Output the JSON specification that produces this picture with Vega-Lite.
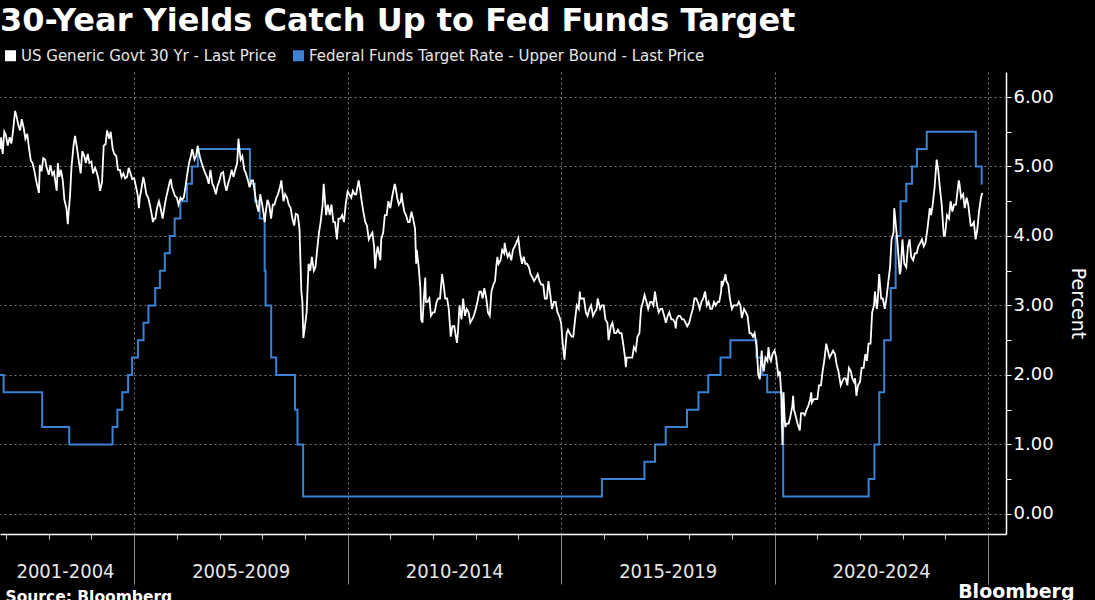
{
"$schema": "https://vega.github.io/schema/vega-lite/v6.json",
"background": "#000000",
"autosize": {"type": "none"},
"padding": {"left": 0, "top": 72, "right": 89, "bottom": 66},
"width": 1006,
"height": 462,
"title": {"text": "30-Year Yields Catch Up to Fed Funds Target", "anchor": "start", "frame": "group", "font": "DejaVu Sans", "fontSize": 32, "fontWeight": "bold", "color": "#ffffff", "offset": 10},
"config": {"view": {"stroke": null}},
"datasets": {
"ff": [
{"d":"2001-11-10","v":2.00},{"d":"2001-12-11","v":1.75},{"d":"2002-11-06","v":1.25},{"d":"2003-06-25","v":1.00},{"d":"2004-06-30","v":1.25},{"d":"2004-08-10","v":1.50},{"d":"2004-09-21","v":1.75},{"d":"2004-11-10","v":2.00},{"d":"2004-12-14","v":2.25},{"d":"2005-02-02","v":2.50},{"d":"2005-03-22","v":2.75},{"d":"2005-05-03","v":3.00},{"d":"2005-06-30","v":3.25},{"d":"2005-08-09","v":3.50},{"d":"2005-09-20","v":3.75},{"d":"2005-11-01","v":4.00},{"d":"2005-12-13","v":4.25},{"d":"2006-01-31","v":4.50},{"d":"2006-03-28","v":4.75},{"d":"2006-05-10","v":5.00},{"d":"2006-06-29","v":5.25},{"d":"2007-09-18","v":4.75},{"d":"2007-10-31","v":4.50},{"d":"2007-12-11","v":4.25},{"d":"2008-01-22","v":3.50},{"d":"2008-01-30","v":3.00},{"d":"2008-03-18","v":2.25},{"d":"2008-04-30","v":2.00},{"d":"2008-10-08","v":1.50},{"d":"2008-10-29","v":1.00},{"d":"2008-12-16","v":0.25},{"d":"2015-12-16","v":0.50},{"d":"2016-12-14","v":0.75},{"d":"2017-03-15","v":1.00},{"d":"2017-06-14","v":1.25},{"d":"2017-12-13","v":1.50},{"d":"2018-03-21","v":1.75},{"d":"2018-06-13","v":2.00},{"d":"2018-09-26","v":2.25},{"d":"2018-12-19","v":2.50},{"d":"2019-07-31","v":2.25},{"d":"2019-09-18","v":2.00},{"d":"2019-10-30","v":1.75},{"d":"2020-03-03","v":1.25},{"d":"2020-03-15","v":0.25},{"d":"2022-03-16","v":0.50},{"d":"2022-05-04","v":1.00},{"d":"2022-06-15","v":1.75},{"d":"2022-07-27","v":2.50},{"d":"2022-09-21","v":3.25},{"d":"2022-11-02","v":4.00},{"d":"2022-12-14","v":4.50},{"d":"2023-02-01","v":4.75},{"d":"2023-03-22","v":5.00},{"d":"2023-05-03","v":5.25},{"d":"2023-07-26","v":5.50},{"d":"2024-09-18","v":5.00},{"d":"2024-11-07","v":4.75},{"d":"2024-11-12","v":4.75}
],
"y30": [
{"d":"2001-11-12","v":5.25},{"d":"2001-11-20","v":5.42},{"d":"2001-12-03","v":5.18},{"d":"2001-12-17","v":5.50},{"d":"2001-12-31","v":5.45},
{"d":"2002-01-15","v":5.30},{"d":"2002-02-01","v":5.42},{"d":"2002-02-15","v":5.33},{"d":"2002-03-01","v":5.50},{"d":"2002-03-19","v":5.80},{"d":"2002-04-01","v":5.72},{"d":"2002-04-15","v":5.60},{"d":"2002-05-01","v":5.52},{"d":"2002-05-15","v":5.68},{"d":"2002-06-01","v":5.55},{"d":"2002-06-15","v":5.40},{"d":"2002-07-01","v":5.47},{"d":"2002-07-15","v":5.28},{"d":"2002-08-01","v":5.08},{"d":"2002-08-15","v":5.05},{"d":"2002-09-01","v":4.93},{"d":"2002-09-15","v":4.80},{"d":"2002-10-01","v":4.68},{"d":"2002-10-09","v":4.62},{"d":"2002-10-17","v":5.02},{"d":"2002-11-01","v":4.93},{"d":"2002-11-15","v":5.12},{"d":"2002-12-01","v":5.10},{"d":"2002-12-15","v":4.98},
{"d":"2003-01-01","v":4.88},{"d":"2003-01-15","v":5.02},{"d":"2003-02-01","v":4.88},{"d":"2003-02-15","v":4.92},{"d":"2003-03-01","v":4.75},{"d":"2003-03-10","v":4.65},{"d":"2003-03-20","v":5.05},{"d":"2003-04-01","v":4.85},{"d":"2003-04-15","v":4.95},{"d":"2003-05-01","v":4.80},{"d":"2003-05-15","v":4.52},{"d":"2003-06-01","v":4.40},{"d":"2003-06-13","v":4.17},{"d":"2003-06-20","v":4.35},{"d":"2003-07-01","v":4.55},{"d":"2003-07-15","v":5.00},{"d":"2003-08-01","v":5.30},{"d":"2003-08-14","v":5.44},{"d":"2003-09-01","v":5.25},{"d":"2003-09-15","v":5.08},{"d":"2003-10-01","v":4.90},{"d":"2003-10-15","v":5.22},{"d":"2003-11-01","v":5.15},{"d":"2003-11-15","v":5.05},{"d":"2003-12-01","v":5.18},{"d":"2003-12-15","v":5.05},
{"d":"2004-01-01","v":5.07},{"d":"2004-01-15","v":4.90},{"d":"2004-02-01","v":4.98},{"d":"2004-02-15","v":4.92},{"d":"2004-03-01","v":4.82},{"d":"2004-03-15","v":4.65},{"d":"2004-04-01","v":4.78},{"d":"2004-04-15","v":5.30},{"d":"2004-05-01","v":5.32},{"d":"2004-05-14","v":5.52},{"d":"2004-06-01","v":5.40},{"d":"2004-06-14","v":5.50},{"d":"2004-07-01","v":5.25},{"d":"2004-07-15","v":5.18},{"d":"2004-08-01","v":5.15},{"d":"2004-08-15","v":4.95},{"d":"2004-09-01","v":4.95},{"d":"2004-09-15","v":4.85},{"d":"2004-10-01","v":4.90},{"d":"2004-10-15","v":4.83},{"d":"2004-11-01","v":4.85},{"d":"2004-11-15","v":4.98},{"d":"2004-12-01","v":4.90},{"d":"2004-12-15","v":4.82},
{"d":"2005-01-01","v":4.83},{"d":"2005-01-15","v":4.72},{"d":"2005-02-01","v":4.58},{"d":"2005-02-10","v":4.40},{"d":"2005-02-18","v":4.55},{"d":"2005-03-01","v":4.65},{"d":"2005-03-20","v":4.85},{"d":"2005-04-01","v":4.75},{"d":"2005-04-15","v":4.60},{"d":"2005-05-01","v":4.55},{"d":"2005-05-15","v":4.45},{"d":"2005-06-01","v":4.30},{"d":"2005-06-10","v":4.20},{"d":"2005-06-20","v":4.25},{"d":"2005-07-01","v":4.25},{"d":"2005-07-15","v":4.40},{"d":"2005-08-01","v":4.50},{"d":"2005-08-15","v":4.40},{"d":"2005-09-01","v":4.25},{"d":"2005-09-15","v":4.40},{"d":"2005-10-01","v":4.55},{"d":"2005-10-15","v":4.65},{"d":"2005-11-01","v":4.78},{"d":"2005-11-10","v":4.82},{"d":"2005-11-20","v":4.70},{"d":"2005-12-01","v":4.65},{"d":"2005-12-15","v":4.58},
{"d":"2006-01-01","v":4.55},{"d":"2006-01-15","v":4.45},{"d":"2006-02-01","v":4.55},{"d":"2006-02-15","v":4.52},{"d":"2006-03-01","v":4.55},{"d":"2006-03-15","v":4.70},{"d":"2006-04-01","v":4.90},{"d":"2006-04-15","v":5.05},{"d":"2006-05-01","v":5.15},{"d":"2006-05-12","v":5.25},{"d":"2006-06-01","v":5.10},{"d":"2006-06-15","v":5.15},{"d":"2006-06-28","v":5.30},{"d":"2006-07-15","v":5.15},{"d":"2006-08-01","v":5.05},{"d":"2006-08-15","v":4.98},{"d":"2006-09-01","v":4.90},{"d":"2006-09-15","v":4.85},{"d":"2006-10-01","v":4.75},{"d":"2006-10-15","v":4.95},{"d":"2006-11-01","v":4.75},{"d":"2006-11-15","v":4.70},{"d":"2006-12-01","v":4.60},{"d":"2006-12-15","v":4.72},
{"d":"2007-01-01","v":4.80},{"d":"2007-01-15","v":4.90},{"d":"2007-02-01","v":4.92},{"d":"2007-02-15","v":4.75},{"d":"2007-03-01","v":4.65},{"d":"2007-03-15","v":4.75},{"d":"2007-04-01","v":4.85},{"d":"2007-04-15","v":4.95},{"d":"2007-05-01","v":4.85},{"d":"2007-05-15","v":4.95},{"d":"2007-06-01","v":5.05},{"d":"2007-06-12","v":5.40},{"d":"2007-06-20","v":5.25},{"d":"2007-07-01","v":5.10},{"d":"2007-07-15","v":5.15},{"d":"2007-08-01","v":4.95},{"d":"2007-08-15","v":4.90},{"d":"2007-09-01","v":4.80},{"d":"2007-09-15","v":4.70},{"d":"2007-10-01","v":4.80},{"d":"2007-10-15","v":4.80},{"d":"2007-11-01","v":4.60},{"d":"2007-11-15","v":4.45},{"d":"2007-12-01","v":4.35},{"d":"2007-12-15","v":4.60},
{"d":"2008-01-01","v":4.45},{"d":"2008-01-15","v":4.30},{"d":"2008-01-23","v":4.20},{"d":"2008-02-01","v":4.35},{"d":"2008-02-15","v":4.52},{"d":"2008-03-01","v":4.45},{"d":"2008-03-17","v":4.25},{"d":"2008-04-01","v":4.45},{"d":"2008-04-15","v":4.45},{"d":"2008-05-01","v":4.55},{"d":"2008-05-15","v":4.60},{"d":"2008-06-01","v":4.70},{"d":"2008-06-13","v":4.80},{"d":"2008-07-01","v":4.50},{"d":"2008-07-15","v":4.60},{"d":"2008-08-01","v":4.55},{"d":"2008-08-15","v":4.45},{"d":"2008-09-01","v":4.40},{"d":"2008-09-15","v":4.25},{"d":"2008-10-01","v":4.15},{"d":"2008-10-14","v":4.32},{"d":"2008-11-01","v":4.30},{"d":"2008-11-15","v":4.10},{"d":"2008-12-01","v":3.20},{"d":"2008-12-10","v":3.05},{"d":"2008-12-18","v":2.53},{"d":"2008-12-31","v":2.69},
{"d":"2009-01-15","v":2.90},{"d":"2009-02-01","v":3.60},{"d":"2009-02-15","v":3.50},{"d":"2009-03-01","v":3.70},{"d":"2009-03-18","v":3.50},{"d":"2009-04-01","v":3.55},{"d":"2009-04-15","v":3.80},{"d":"2009-05-01","v":4.05},{"d":"2009-05-15","v":4.20},{"d":"2009-06-01","v":4.45},{"d":"2009-06-10","v":4.75},{"d":"2009-07-01","v":4.30},{"d":"2009-07-15","v":4.45},{"d":"2009-08-01","v":4.30},{"d":"2009-08-15","v":4.45},{"d":"2009-09-01","v":4.20},{"d":"2009-09-15","v":4.20},{"d":"2009-10-01","v":3.95},{"d":"2009-10-15","v":4.25},{"d":"2009-11-01","v":4.25},{"d":"2009-11-15","v":4.30},{"d":"2009-12-01","v":4.20},{"d":"2009-12-15","v":4.45},
{"d":"2010-01-01","v":4.64},{"d":"2010-01-15","v":4.60},{"d":"2010-02-01","v":4.55},{"d":"2010-02-15","v":4.65},{"d":"2010-03-01","v":4.60},{"d":"2010-03-15","v":4.60},{"d":"2010-04-05","v":4.80},{"d":"2010-04-15","v":4.70},{"d":"2010-05-01","v":4.50},{"d":"2010-05-15","v":4.35},{"d":"2010-06-01","v":4.20},{"d":"2010-06-15","v":4.15},{"d":"2010-07-01","v":3.95},{"d":"2010-07-15","v":4.00},{"d":"2010-08-01","v":4.05},{"d":"2010-08-15","v":3.85},{"d":"2010-08-25","v":3.53},{"d":"2010-09-01","v":3.70},{"d":"2010-09-15","v":3.85},{"d":"2010-10-01","v":3.70},{"d":"2010-10-08","v":3.65},{"d":"2010-10-15","v":3.95},{"d":"2010-11-01","v":4.05},{"d":"2010-11-15","v":4.30},{"d":"2010-12-01","v":4.30},{"d":"2010-12-15","v":4.50},
{"d":"2011-01-01","v":4.40},{"d":"2011-01-15","v":4.55},{"d":"2011-02-08","v":4.75},{"d":"2011-02-15","v":4.70},{"d":"2011-03-01","v":4.55},{"d":"2011-03-15","v":4.45},{"d":"2011-04-01","v":4.50},{"d":"2011-04-08","v":4.62},{"d":"2011-04-15","v":4.50},{"d":"2011-05-01","v":4.35},{"d":"2011-05-15","v":4.30},{"d":"2011-06-01","v":4.20},{"d":"2011-06-15","v":4.20},{"d":"2011-07-01","v":4.35},{"d":"2011-07-15","v":4.25},{"d":"2011-08-01","v":4.10},{"d":"2011-08-10","v":3.60},{"d":"2011-08-15","v":3.80},{"d":"2011-09-01","v":3.55},{"d":"2011-09-15","v":3.25},{"d":"2011-09-22","v":2.80},{"d":"2011-10-03","v":2.75},{"d":"2011-10-15","v":3.10},{"d":"2011-10-27","v":3.40},{"d":"2011-11-01","v":3.05},{"d":"2011-11-15","v":3.05},{"d":"2011-12-01","v":3.10},{"d":"2011-12-15","v":2.85},
{"d":"2012-01-01","v":2.90},{"d":"2012-01-15","v":2.90},{"d":"2012-02-01","v":3.05},{"d":"2012-02-15","v":3.10},{"d":"2012-03-01","v":3.10},{"d":"2012-03-19","v":3.45},{"d":"2012-04-01","v":3.30},{"d":"2012-04-15","v":3.10},{"d":"2012-05-01","v":3.10},{"d":"2012-05-15","v":2.95},{"d":"2012-06-01","v":2.55},{"d":"2012-06-15","v":2.70},{"d":"2012-07-01","v":2.70},{"d":"2012-07-24","v":2.46},{"d":"2012-08-01","v":2.60},{"d":"2012-08-15","v":3.00},{"d":"2012-09-01","v":2.80},{"d":"2012-09-15","v":3.10},{"d":"2012-10-01","v":2.85},{"d":"2012-10-15","v":2.95},{"d":"2012-11-01","v":2.90},{"d":"2012-11-15","v":2.75},{"d":"2012-12-01","v":2.80},{"d":"2012-12-15","v":2.85},
{"d":"2013-01-01","v":2.95},{"d":"2013-01-15","v":3.05},{"d":"2013-02-01","v":3.20},{"d":"2013-02-15","v":3.20},{"d":"2013-03-01","v":3.10},{"d":"2013-03-15","v":3.25},{"d":"2013-04-01","v":3.10},{"d":"2013-04-15","v":2.90},{"d":"2013-05-01","v":2.85},{"d":"2013-05-15","v":3.20},{"d":"2013-06-01","v":3.30},{"d":"2013-06-15","v":3.35},{"d":"2013-06-25","v":3.55},{"d":"2013-07-05","v":3.70},{"d":"2013-07-15","v":3.60},{"d":"2013-08-01","v":3.65},{"d":"2013-08-15","v":3.80},{"d":"2013-09-01","v":3.75},{"d":"2013-09-05","v":3.90},{"d":"2013-09-15","v":3.80},{"d":"2013-10-01","v":3.70},{"d":"2013-10-15","v":3.75},{"d":"2013-11-01","v":3.65},{"d":"2013-11-15","v":3.80},{"d":"2013-12-01","v":3.85},{"d":"2013-12-31","v":3.97},
{"d":"2014-01-15","v":3.75},{"d":"2014-02-01","v":3.60},{"d":"2014-02-15","v":3.70},{"d":"2014-03-01","v":3.60},{"d":"2014-03-15","v":3.60},{"d":"2014-04-01","v":3.55},{"d":"2014-04-15","v":3.45},{"d":"2014-05-01","v":3.40},{"d":"2014-05-15","v":3.35},{"d":"2014-06-01","v":3.40},{"d":"2014-06-15","v":3.45},{"d":"2014-07-01","v":3.35},{"d":"2014-07-15","v":3.30},{"d":"2014-08-01","v":3.30},{"d":"2014-08-15","v":3.10},{"d":"2014-09-01","v":3.10},{"d":"2014-09-15","v":3.35},{"d":"2014-10-01","v":3.15},{"d":"2014-10-15","v":2.95},{"d":"2014-11-01","v":3.05},{"d":"2014-11-15","v":3.05},{"d":"2014-12-01","v":2.90},{"d":"2014-12-15","v":2.85},
{"d":"2015-01-01","v":2.75},{"d":"2015-01-15","v":2.45},{"d":"2015-01-30","v":2.22},{"d":"2015-02-10","v":2.45},{"d":"2015-02-18","v":2.60},{"d":"2015-03-01","v":2.65},{"d":"2015-03-15","v":2.60},{"d":"2015-04-01","v":2.55},{"d":"2015-04-15","v":2.55},{"d":"2015-05-01","v":2.80},{"d":"2015-05-15","v":3.00},{"d":"2015-06-01","v":2.95},{"d":"2015-06-10","v":3.20},{"d":"2015-06-15","v":3.10},{"d":"2015-07-01","v":3.10},{"d":"2015-07-15","v":3.10},{"d":"2015-08-01","v":2.90},{"d":"2015-08-15","v":2.85},{"d":"2015-09-01","v":2.95},{"d":"2015-09-15","v":3.00},{"d":"2015-10-01","v":2.85},{"d":"2015-10-15","v":2.90},{"d":"2015-11-01","v":2.95},{"d":"2015-11-10","v":3.10},{"d":"2015-12-01","v":2.95},{"d":"2015-12-15","v":3.00},
{"d":"2016-01-01","v":3.00},{"d":"2016-01-15","v":2.80},{"d":"2016-02-01","v":2.75},{"d":"2016-02-11","v":2.50},{"d":"2016-03-01","v":2.70},{"d":"2016-03-15","v":2.75},{"d":"2016-04-01","v":2.60},{"d":"2016-04-15","v":2.60},{"d":"2016-05-01","v":2.65},{"d":"2016-05-15","v":2.60},{"d":"2016-06-01","v":2.60},{"d":"2016-06-15","v":2.45},{"d":"2016-07-01","v":2.25},{"d":"2016-07-08","v":2.11},{"d":"2016-07-15","v":2.25},{"d":"2016-08-01","v":2.25},{"d":"2016-08-15","v":2.25},{"d":"2016-09-01","v":2.25},{"d":"2016-09-15","v":2.40},{"d":"2016-10-01","v":2.35},{"d":"2016-10-15","v":2.55},{"d":"2016-11-01","v":2.60},{"d":"2016-11-15","v":2.95},{"d":"2016-12-01","v":3.05},{"d":"2016-12-15","v":3.15},
{"d":"2017-01-01","v":3.05},{"d":"2017-01-15","v":2.95},{"d":"2017-02-01","v":3.05},{"d":"2017-02-15","v":3.05},{"d":"2017-03-01","v":3.00},{"d":"2017-03-14","v":3.20},{"d":"2017-04-01","v":3.00},{"d":"2017-04-15","v":2.90},{"d":"2017-05-01","v":2.95},{"d":"2017-05-15","v":2.95},{"d":"2017-06-01","v":2.85},{"d":"2017-06-15","v":2.75},{"d":"2017-07-01","v":2.85},{"d":"2017-07-15","v":2.90},{"d":"2017-08-01","v":2.80},{"d":"2017-08-15","v":2.80},{"d":"2017-09-01","v":2.75},{"d":"2017-09-08","v":2.67},{"d":"2017-09-15","v":2.80},{"d":"2017-10-01","v":2.85},{"d":"2017-10-15","v":2.85},{"d":"2017-11-01","v":2.80},{"d":"2017-11-15","v":2.80},{"d":"2017-12-01","v":2.75},{"d":"2017-12-15","v":2.70},
{"d":"2018-01-01","v":2.75},{"d":"2018-01-15","v":2.85},{"d":"2018-02-01","v":2.95},{"d":"2018-02-15","v":3.10},{"d":"2018-03-01","v":3.10},{"d":"2018-03-15","v":3.05},{"d":"2018-04-01","v":2.95},{"d":"2018-04-15","v":3.05},{"d":"2018-05-01","v":3.10},{"d":"2018-05-17","v":3.20},{"d":"2018-06-01","v":3.00},{"d":"2018-06-15","v":3.05},{"d":"2018-07-01","v":2.95},{"d":"2018-07-15","v":2.95},{"d":"2018-08-01","v":3.05},{"d":"2018-08-15","v":3.00},{"d":"2018-09-01","v":3.05},{"d":"2018-09-15","v":3.05},{"d":"2018-10-01","v":3.20},{"d":"2018-10-05","v":3.35},{"d":"2018-10-15","v":3.30},{"d":"2018-11-01","v":3.40},{"d":"2018-11-07","v":3.45},{"d":"2018-11-15","v":3.35},{"d":"2018-12-01","v":3.30},{"d":"2018-12-15","v":3.10},
{"d":"2019-01-01","v":2.95},{"d":"2019-01-15","v":3.00},{"d":"2019-02-01","v":3.00},{"d":"2019-02-15","v":3.00},{"d":"2019-03-01","v":3.05},{"d":"2019-03-15","v":3.00},{"d":"2019-03-27","v":2.82},{"d":"2019-04-15","v":2.95},{"d":"2019-05-01","v":2.90},{"d":"2019-05-15","v":2.85},{"d":"2019-06-01","v":2.60},{"d":"2019-06-15","v":2.60},{"d":"2019-07-01","v":2.55},{"d":"2019-07-15","v":2.60},{"d":"2019-08-01","v":2.40},{"d":"2019-08-15","v":2.00},{"d":"2019-08-28","v":1.94},{"d":"2019-09-13","v":2.35},{"d":"2019-09-20","v":2.15},{"d":"2019-10-01","v":2.05},{"d":"2019-10-15","v":2.25},{"d":"2019-11-01","v":2.20},{"d":"2019-11-10","v":2.40},{"d":"2019-11-20","v":2.25},{"d":"2019-12-01","v":2.20},{"d":"2019-12-15","v":2.30},
{"d":"2020-01-01","v":2.35},{"d":"2020-01-15","v":2.25},{"d":"2020-02-01","v":2.00},{"d":"2020-02-15","v":2.05},{"d":"2020-02-28","v":1.70},{"d":"2020-03-09","v":0.99},{"d":"2020-03-18","v":1.75},{"d":"2020-03-25","v":1.45},{"d":"2020-04-01","v":1.25},{"d":"2020-04-15","v":1.30},{"d":"2020-05-01","v":1.30},{"d":"2020-05-15","v":1.40},{"d":"2020-06-01","v":1.55},{"d":"2020-06-08","v":1.70},{"d":"2020-06-15","v":1.50},{"d":"2020-07-01","v":1.40},{"d":"2020-07-15","v":1.30},{"d":"2020-08-04","v":1.20},{"d":"2020-08-15","v":1.45},{"d":"2020-09-01","v":1.45},{"d":"2020-09-15","v":1.42},{"d":"2020-10-01","v":1.50},{"d":"2020-10-15","v":1.55},{"d":"2020-11-01","v":1.65},{"d":"2020-11-10","v":1.75},{"d":"2020-11-15","v":1.60},{"d":"2020-12-01","v":1.65},{"d":"2020-12-15","v":1.65},
{"d":"2021-01-01","v":1.65},{"d":"2021-01-15","v":1.85},{"d":"2021-02-01","v":1.85},{"d":"2021-02-15","v":2.05},{"d":"2021-03-01","v":2.20},{"d":"2021-03-18","v":2.45},{"d":"2021-04-01","v":2.35},{"d":"2021-04-15","v":2.25},{"d":"2021-05-01","v":2.30},{"d":"2021-05-15","v":2.35},{"d":"2021-06-01","v":2.30},{"d":"2021-06-15","v":2.15},{"d":"2021-07-01","v":2.05},{"d":"2021-07-20","v":1.85},{"d":"2021-08-01","v":1.90},{"d":"2021-08-15","v":1.95},{"d":"2021-09-01","v":1.95},{"d":"2021-09-15","v":1.85},{"d":"2021-09-28","v":2.10},{"d":"2021-10-15","v":2.05},{"d":"2021-10-27","v":1.95},{"d":"2021-11-10","v":1.90},{"d":"2021-11-20","v":1.95},{"d":"2021-12-01","v":1.70},{"d":"2021-12-15","v":1.85},
{"d":"2022-01-01","v":1.90},{"d":"2022-01-15","v":2.10},{"d":"2022-02-01","v":2.10},{"d":"2022-02-15","v":2.30},{"d":"2022-03-01","v":2.20},{"d":"2022-03-15","v":2.45},{"d":"2022-04-01","v":2.45},{"d":"2022-04-15","v":2.90},{"d":"2022-05-01","v":3.00},{"d":"2022-05-09","v":3.20},{"d":"2022-05-25","v":2.95},{"d":"2022-06-01","v":3.05},{"d":"2022-06-14","v":3.45},{"d":"2022-07-01","v":3.10},{"d":"2022-07-15","v":3.10},{"d":"2022-08-01","v":2.95},{"d":"2022-08-15","v":3.10},{"d":"2022-09-01","v":3.35},{"d":"2022-09-15","v":3.55},{"d":"2022-09-28","v":3.95},{"d":"2022-10-15","v":4.05},{"d":"2022-10-21","v":4.40},{"d":"2022-11-01","v":4.20},{"d":"2022-11-15","v":3.95},{"d":"2022-12-01","v":3.60},{"d":"2022-12-07","v":3.45},{"d":"2022-12-15","v":3.50},{"d":"2022-12-30","v":3.95},
{"d":"2023-01-15","v":3.60},{"d":"2023-02-01","v":3.55},{"d":"2023-02-15","v":3.85},{"d":"2023-03-01","v":3.95},{"d":"2023-03-15","v":3.70},{"d":"2023-04-01","v":3.65},{"d":"2023-04-15","v":3.75},{"d":"2023-05-01","v":3.75},{"d":"2023-05-15","v":3.85},{"d":"2023-06-01","v":3.90},{"d":"2023-06-15","v":3.95},{"d":"2023-07-01","v":3.85},{"d":"2023-07-15","v":3.90},{"d":"2023-08-01","v":4.10},{"d":"2023-08-21","v":4.40},{"d":"2023-09-01","v":4.30},{"d":"2023-09-15","v":4.45},{"d":"2023-10-01","v":4.70},{"d":"2023-10-19","v":5.10},{"d":"2023-11-01","v":4.95},{"d":"2023-11-15","v":4.70},{"d":"2023-12-01","v":4.45},{"d":"2023-12-19","v":4.00},{"d":"2023-12-27","v":4.00},
{"d":"2024-01-01","v":4.05},{"d":"2024-01-15","v":4.30},{"d":"2024-02-01","v":4.25},{"d":"2024-02-15","v":4.50},{"d":"2024-03-01","v":4.35},{"d":"2024-03-15","v":4.45},{"d":"2024-04-01","v":4.45},{"d":"2024-04-25","v":4.80},{"d":"2024-05-01","v":4.75},{"d":"2024-05-15","v":4.55},{"d":"2024-06-01","v":4.60},{"d":"2024-06-15","v":4.40},{"d":"2024-07-01","v":4.55},{"d":"2024-07-15","v":4.45},{"d":"2024-08-05","v":4.15},{"d":"2024-08-15","v":4.15},{"d":"2024-09-01","v":4.20},{"d":"2024-09-16","v":3.95},{"d":"2024-10-01","v":4.10},{"d":"2024-10-15","v":4.35},{"d":"2024-11-01","v":4.55},{"d":"2024-11-12","v":4.62}
]
},
"layer": [
{
"data": {"name": "ff"},
"mark": {"type": "line", "interpolate": "step-after", "strokeWidth": 2},
"encoding": {
"x": {"field": "d", "type": "temporal",
"scale": {"domain": [{"year": 2001, "month": 11, "date": 10}, {"year": 2025, "month": 6, "date": 3}]},
"axis": {"orient": "bottom", "values": [{"year": 2003, "month": 5, "date": 20}, {"year": 2007, "month": 7, "date": 1}, {"year": 2012, "month": 7, "date": 1}, {"year": 2017, "month": 7, "date": 1}, {"year": 2022, "month": 7, "date": 1}],
"labelExpr": "['2001-2004','2005-2009','2010-2014','2015-2019','2020-2024'][floor((year(datum.value)-2002)/5)]",
"ticks": false, "domain": false, "grid": false, "labelOverlap": false, "labelFlush": false,
"labelFont": "DejaVu Sans Condensed", "labelFontSize": 20, "labelColor": "#e6e6e6", "labelPadding": 27,
"title": "Bloomberg", "titleFont": "DejaVu Sans", "titleFontSize": 19, "titleFontWeight": "bold", "titleColor": "#ffffff",
"titleX": 1074, "titleY": 63, "titleAlign": "right", "titleBaseline": "alphabetic"}},
"y": {"field": "v", "type": "quantitative", "scale": {"domain": [-0.29, 6.36], "nice": false, "zero": false}, "axis": null},
"color": {"datum": "Federal Funds Target Rate - Upper Bound - Last Price",
"scale": {"domain": ["US Generic Govt 30 Yr - Last Price", "Federal Funds Target Rate - Upper Bound - Last Price"], "range": ["#ffffff", "#3b82d6"]},
"legend": {"orient": "none", "legendX": 3, "legendY": -24, "direction": "horizontal", "title": null,
"symbolType": "square", "symbolSize": 121, "symbolStrokeWidth": 0, "labelLimit": 0,
"labelFont": "DejaVu Sans", "labelFontSize": 15, "labelColor": "#e6e6e6", "labelOffset": 3, "columnPadding": 14,
"encode": {"symbols": {"update": {"fill": {"scale": "color", "field": "value"}, "opacity": {"value": 1}}}}}}
}
},
{
"data": {"name": "y30"},
"mark": {"type": "line", "strokeWidth": 1.8},
"encoding": {
"x": {"field": "d", "type": "temporal",
"axis": {"orient": "bottom", "values": [{"year": 2002}, {"year": 2003}, {"year": 2004}, {"year": 2005}, {"year": 2006}, {"year": 2007}, {"year": 2008}, {"year": 2009}, {"year": 2010}, {"year": 2011}, {"year": 2012}, {"year": 2013}, {"year": 2014}, {"year": 2015}, {"year": 2016}, {"year": 2017}, {"year": 2018}, {"year": 2019}, {"year": 2020}, {"year": 2021}, {"year": 2022}, {"year": 2023}, {"year": 2024}, {"year": 2025}],
"labels": false, "domain": true, "domainColor": "#ffffff", "domainWidth": 1.5,
"ticks": true,
"tickColor": {"condition": {"test": "year(datum.value) % 5 == 0", "value": "#8a8a8a"}, "value": "#cccccc"},
"tickSize": {"condition": {"test": "year(datum.value) % 5 == 0", "value": 50}, "value": 5},
"tickWidth": 1,
"grid": true, "gridColor": "#7a7a7a", "gridDash": [2, 3],
"gridOpacity": {"condition": {"test": "year(datum.value) % 5 == 0", "value": 1}, "value": 0},
"title": "Source: Bloomberg", "titleX": 5, "titleY": 67, "titleAlign": "left", "titleBaseline": "alphabetic",
"titleFont": "DejaVu Sans", "titleFontSize": 15.5, "titleFontWeight": "bold", "titleColor": "#ffffff"}},
"y": {"field": "v", "type": "quantitative",
"axis": {"orient": "right", "values": [0, 0.5, 1, 1.5, 2, 2.5, 3, 3.5, 4, 4.5, 5, 5.5, 6],
"labelExpr": "datum.value % 1 == 0 ? format(datum.value, '.2f') : ''",
"domainColor": "#ffffff", "domainWidth": 1.5, "tickColor": "#ffffff", "tickSize": 5, "labelPadding": 2,
"labelFont": "DejaVu Sans", "labelFontSize": 18, "labelColor": "#ffffff", "labelOverlap": false, "labelBaseline": "middle",
"grid": true, "gridColor": "#7a7a7a", "gridDash": [2, 3],
"gridOpacity": {"condition": {"test": "datum.value % 1 == 0", "value": 1}, "value": 0},
"title": "Percent", "titleFont": "DejaVu Sans", "titleFontSize": 19, "titleFontWeight": "normal", "titleColor": "#ffffff", "titleAngle": 90, "titlePadding": 14}},
"color": {"datum": "US Generic Govt 30 Yr - Last Price"}
}
}
],
"resolve": {"axis": {"x": "independent", "y": "independent"}}
}
